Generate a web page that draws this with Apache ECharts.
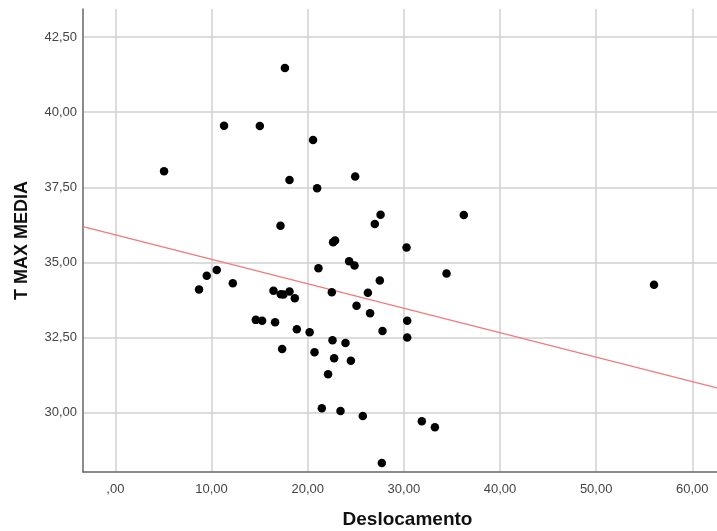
<!DOCTYPE html>
<html>
<head>
<meta charset="utf-8">
<script src="https://cdn.jsdelivr.net/npm/echarts@6/dist/echarts.min.js"></script>
<style>
html,body{margin:0;padding:0;background:#fff;}
#c{width:717px;height:531px;}
</style>
</head>
<body>
<div id="c"></div>
<script>
// Deslocamento (x) values
const deslocamento = [17.63,11.30,15.02,20.56,5.06,18.11,20.98,24.94,17.17,22.64,22.85,27.58,26.98,36.24,30.28,24.31,24.87,21.12,8.70,9.50,10.54,12.21,16.44,17.20,17.48,18.11,18.66,14.60,15.26,16.61,18.87,20.20,17.34,27.50,34.44,22.51,26.26,25.08,26.49,30.35,27.78,30.35,22.58,23.93,20.71,22.75,24.49,22.12,21.47,23.41,25.73,31.87,33.23,27.71,56.02];
// T MAX MEDIA (y) values
const tMaxMedia = [41.47,39.55,39.54,39.07,38.03,37.74,37.47,37.86,36.22,35.67,35.73,36.59,36.28,36.58,35.50,35.04,34.90,34.81,34.10,34.56,34.75,34.31,34.06,33.94,33.93,34.03,33.81,33.09,33.06,33.01,32.78,32.68,32.12,34.40,34.63,34.01,33.99,33.56,33.31,33.06,32.72,32.50,32.41,32.32,32.01,31.81,31.73,31.28,30.15,30.06,29.89,29.72,29.52,28.33,34.26];
// Fit line
const fitIntercept = 35.92;
const fitSlope = -0.0814;
// Tick labels
const xTicks = [0,10,20,30,40,50,60];
const yTicks = [30,32.5,35,37.5,40,42.5];
const xRange = [-3.37, 62.57];
const yRange = [28.03, 43.43];

const points = deslocamento.map((x,i)=>[x,tMaxMedia[i]]);
const fitLine = xRange.map(x=>[x, fitIntercept + fitSlope*x]);

function fmt(v){
  let s = Number(v).toFixed(2).replace('.', ',');
  if (s.startsWith('0,')) s = s.substring(1);
  return s;
}

const font = '"Liberation Sans", Arial, sans-serif';
const chart = echarts.init(document.getElementById('c'), null, {renderer:'canvas'});
chart.setOption({
  animation:false,
  backgroundColor:'#fff',
  grid:{left:83,right:0,top:9,bottom:59,containLabel:false,outerBoundsMode:'none'},
  xAxis:{
    type:'value', min:xRange[0], max:xRange[1],
    name:'Deslocamento', nameLocation:'middle', nameGap:38,
    nameTextStyle:{fontFamily:font,fontSize:19,fontWeight:'bold',color:'#111',padding:[0,0,0,15]},
    axisLine:{show:true,onZero:false,lineStyle:{color:'#666',width:1.5}},
    axisTick:{show:false,customValues:xTicks},
    axisLabel:{customValues:xTicks,formatter:fmt,fontFamily:font,fontSize:13,color:'#444',margin:11},
    splitLine:{show:true,lineStyle:{color:'#d0d0d0',width:1.5}}
  },
  yAxis:{
    type:'value', min:yRange[0], max:yRange[1],
    name:'T MAX MEDIA', nameLocation:'middle', nameGap:52, nameRotate:90,
    nameTextStyle:{fontFamily:font,fontSize:18,fontWeight:'bold',color:'#111'},
    axisLine:{show:true,onZero:false,lineStyle:{color:'#666',width:1.5}},
    axisTick:{show:false,customValues:yTicks},
    axisLabel:{customValues:yTicks,formatter:fmt,fontFamily:font,fontSize:13,color:'#444',margin:6},
    splitLine:{show:true,lineStyle:{color:'#d0d0d0',width:1.5}}
  },
  series:[
    {type:'line',data:fitLine,symbol:'none',silent:true,
     lineStyle:{color:'#f07a78',width:1.3},z:2},
    {type:'scatter',data:points,symbol:'circle',symbolSize:8.5,
     itemStyle:{color:'#000',opacity:1},z:3}
  ]
});
</script>
</body>
</html>
